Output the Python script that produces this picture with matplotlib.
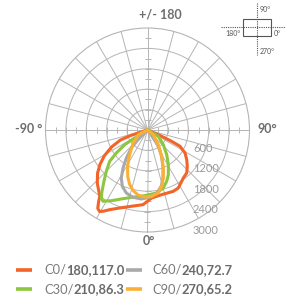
import numpy as np
import matplotlib
matplotlib.use("Agg")
import matplotlib.pyplot as plt
from matplotlib.transforms import offset_copy

plt.rcParams["font.family"] = ["Lato", "DejaVu Sans"]

# Luminous intensity (cd) vs gamma angle (deg), negative = left half
c0_ang = [-74, -72, -69.7, -64.7, -59.1, -54, -49.2, -43.4, -38.5, -35.9, -34.2, -32.4, -30.5,
          -28.7, -25.4, -19.6, -12, -3.4, 3.5, 12.4, 22.8, 28, 33.7, 36.7, 42.4, 47.6, 52.9,
          58.5, 63.4, 64.9, 66.1, 67]
c0_cd = [0, 510, 850, 1170, 1480, 1730, 1940, 2150, 2300, 2390, 2560, 2730, 2780,
         2726, 2594, 2435, 2294, 2200, 2003, 1947, 1956, 1931, 1814, 1761, 1711, 1585, 1446,
         1294, 1070, 785, 457, 0]

c30_ang = [-60, -58, -57.2, -53.6, -50.4, -44.9, -40.3, -36.6, -34.2, -32, -27.1, -20.8, -13.5,
           -5.3, 8.3, 15.2, 20.5, 25, 31, 37.9, 47.1, 59.7, 63]
c30_cd = [0, 444, 797, 1140, 1443, 1716, 1979, 2245, 2418, 2472, 2336, 2170, 2036,
          1959, 1872, 1768, 1611, 1450, 1190, 920, 635, 368, 0]

c60_ang = [-47, -44.4, -42, -37.1, -32.8, -28.6, -24.1, -18.6, -12.2, -5.1, 2, 9, 14, 18,
           22.6, 28.4, 36, 48]
c60_cd = [0, 400, 712, 1033, 1330, 1609, 1815, 1955, 2026, 2037, 1980, 1860, 1690, 1470,
          1190, 860, 500, 0]

c90_ang = [-66, -63, -47.5, -35.3, -28.9, -23.2, -18.3, -13.4, -8.1, -2.1, 3.6, 9.7, 14.2,
           18.2, 22.6, 28.4, 36.3, 51, 56]
c90_cd = [0, 303, 580, 920, 1210, 1480, 1680, 1830, 1935, 1975, 1955, 1880, 1708,
          1486, 1211, 880, 535, 220, 0]

plane_names = ["C0/", "C30/", "C60/", "C90/"]
plane_values = ["180,117.0", "210,86.3", "240,72.7", "270,65.2"]
plane_colors = ["#F26427", "#8DC63F", "#A9A9A9", "#FBB034"]

ring_values = [600, 1200, 1800, 2400, 3000]

W, H = 285, 305
fig = plt.figure(figsize=(W / 100, H / 100), dpi=100)

# polar chart, center at (147.5, 130) px, radius 102 px
cx, cy, R = 147.5, 130, 102
ax = fig.add_axes([(cx - R) / W, (H - cy - R) / H, 2 * R / W, 2 * R / H], projection="polar")
ax.set_theta_zero_location("S")
ax.set_theta_direction(1)
ax.set_ylim(0, ring_values[-1])
ax.set_rgrids(ring_values[:-1], labels=[""] * (len(ring_values) - 1))
ax.set_thetagrids(np.arange(0, 360, 15), labels=[""] * 24)
ax.grid(color="#B5B5B5", linewidth=0.7)
ax.spines["polar"].set_color("#B5B5B5")
ax.spines["polar"].set_linewidth(0.8)
ax.set_facecolor("none")

# small ticks along the main axes
tick_r = np.arange(300, ring_values[-1], 300)
for th in (90, -90):
    ax.plot(np.full(len(tick_r), np.radians(th)), tick_r, ls="none", marker="|",
            ms=4, mew=0.7, color="#B5B5B5", clip_on=False)
for th in (0, 180):
    ax.plot(np.full(len(tick_r), np.radians(th)), tick_r, ls="none", marker="_",
            ms=4, mew=0.7, color="#B5B5B5", clip_on=False)

curves = [(c0_ang, c0_cd), (c30_ang, c30_cd), (c60_ang, c60_cd), (c90_ang, c90_cd)]
for (ang, cd), col in zip(curves, plane_colors):
    ax.plot(np.radians(ang), cd, color=col, lw=2.2, solid_joinstyle="round",
            solid_capstyle="round", zorder=3)

# ring labels
lab_tr = offset_copy(ax.transData, fig=fig, x=45.5, y=2, units="dots")
for v in ring_values:
    ax.text(0, v, str(v), transform=lab_tr, ha="left", va="center",
            fontsize=8, color="#9A9A9A")

# overlay in pixel coordinates for text and legend
ov = fig.add_axes([0, 0, 1, 1])
ov.set_xlim(0, W)
ov.set_ylim(H, 0)
ov.axis("off")

txt = "#6E6E6E"
ov.text(160, 14.5, "+/- 180", ha="center", va="center", fontsize=9, fontweight="bold", color=txt)
ov.text(15, 129, "-90 °", ha="left", va="center", fontsize=9, fontweight="bold", color=txt)
ov.text(277, 129, "90°", ha="right", va="center", fontsize=9, fontweight="bold", color=txt)
ov.text(148.5, 241, "0°", ha="center", va="center", fontsize=9, fontweight="bold", color=txt)

# orientation inset
ov.add_patch(plt.Rectangle((243, 18.5), 28, 17, fill=False, ec="#555555", lw=0.8))
ov.plot([257.3, 257.3], [3, 55], ls=(0, (1, 1)), lw=0.8, color="#555555")
ov.plot([221, 285], [27.3, 27.3], ls=(0, (1, 1)), lw=0.8, color="#555555")
ov.text(260, 9, "90°", fontsize=5, color="#555555", va="center", ha="left")
ov.text(241, 34, "180°", fontsize=5, color="#555555", va="center", ha="right")
ov.text(273.5, 34, "0°", fontsize=5, color="#555555", va="center", ha="left")
ov.text(260, 51.5, "270°", fontsize=5, color="#555555", va="center", ha="left")

# legend
leg_pos = [(16, 44, 270), (16, 44, 289), (126, 152, 270), (126, 152, 289)]
for (lx, tx, ty), name, val, col in zip(leg_pos, plane_names, plane_values, plane_colors):
    ov.plot([lx, lx + 16], [ty, ty], color=col, lw=2.6, solid_capstyle="butt")
    t1 = ov.text(tx, ty, name, ha="left", va="center", fontsize=9.3, color="#7A7A7A")
    ov.annotate(val, xy=(1, 0.5), xycoords=t1, ha="left", va="center",
                fontsize=9.3, fontweight="bold", color="#6A6A6A")

fig.savefig("out.png", dpi=100)
